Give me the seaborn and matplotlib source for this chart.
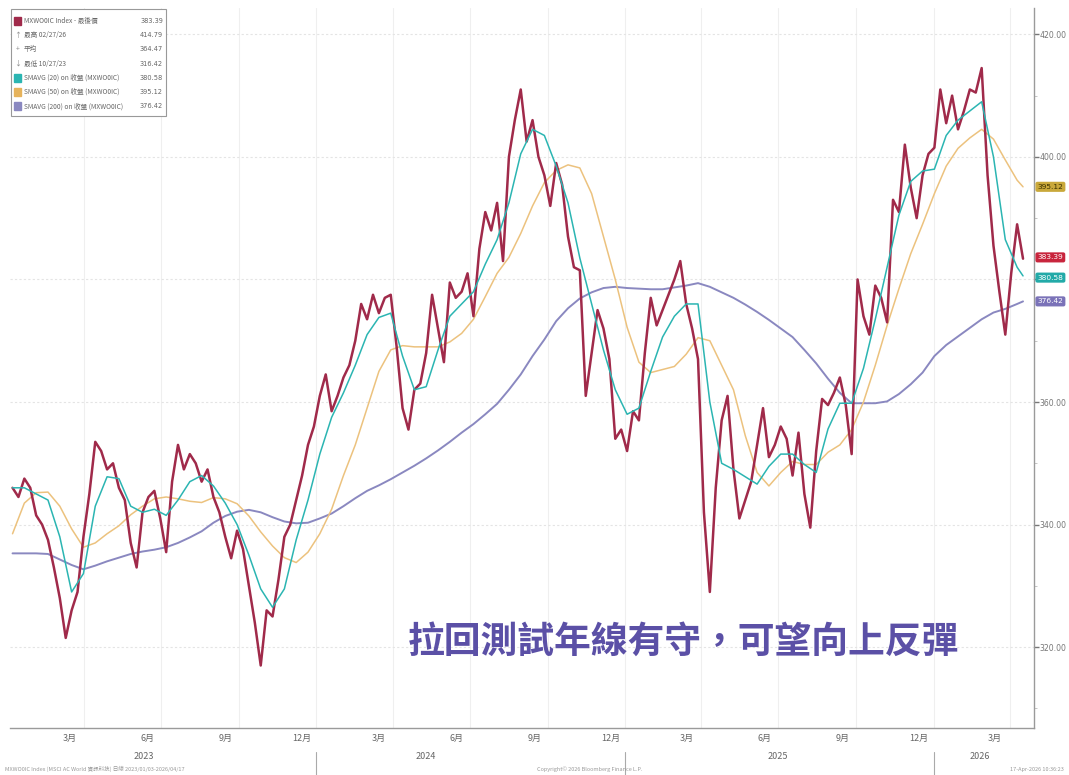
import numpy as np
import pandas as pd
import matplotlib
matplotlib.use("Agg")
import matplotlib.pyplot as plt
import matplotlib.dates as mdates
import matplotlib.transforms as mtransforms
from matplotlib.patches import Rectangle
import seaborn as sns

# ---------------- data ----------------
price_start = "2023-01-06"   # weekly points
price_close = [
    346, 344.5, 347.5, 346, 341.5, 340, 337.5, 333, 328, 321.5,
    326, 329, 338, 345, 353.5, 352, 349, 350, 346, 344,
    337, 333, 342, 344.5, 345.5, 341, 335.5, 347, 353, 349,
    351.5, 350, 347, 349, 344.5, 342, 338, 334.5, 339, 336,
    330, 324, 317, 326, 325, 331, 338, 340, 344, 348,
    353, 356, 361, 364.5, 358.5, 361, 364, 366, 370, 376,
    373.5, 377.5, 374.5, 377, 377.5, 369, 359, 355.5, 362, 363,
    368, 377.5, 372, 366.5, 379.5, 377, 378, 381, 374, 385,
    391, 388, 392.5, 383, 400, 406, 411, 402.5, 406, 400,
    397, 392, 399, 395.5, 387, 382, 381.5, 361, 368, 375,
    372, 367, 354, 355.5, 352, 358.5, 357, 368, 377, 372.5,
    375, 377.5, 380, 383, 376, 372, 367, 342, 329, 346,
    357, 361, 349, 341, 344, 347, 353, 359, 351, 353,
    356, 354, 348, 355, 345, 339.5, 352, 360.5, 359.5, 361.5,
    364, 359.5, 351.5, 380, 374, 371, 379, 377, 373, 393,
    391, 402, 395, 390, 397, 400.5, 401.5, 411, 405.5, 410,
    404.5, 407.5, 411, 410.5, 414.5, 397, 385.5, 378, 371, 381,
    389, 383.39,
]

sma_start = "2023-01-06"     # bi-weekly points, plus the last day
sma_last_date = "2026-04-17"
sma20 = [
    346, 346, 345, 344, 338, 329, 332, 343, 347.8, 347.5,
    343, 342, 342.5, 341.5, 344, 347, 348, 346.3, 343.5, 340,
    335, 329.5, 326.5, 329.5, 337.5, 344, 351.5, 357.5, 361.5, 366,
    371, 373.8, 374.5, 367.5, 362, 362.5, 368.5, 374, 376, 378,
    382.5, 386.5, 392.5, 400.5, 404.5, 403.5, 398.5, 392.5, 383.5, 376,
    368.5, 362, 358, 359, 365, 370.6, 374, 376, 376, 360,
    350, 349, 347.8, 346.6, 349.5, 351.5, 351.5, 349.8, 348.5, 355.6,
    359.8, 359.8, 365.5, 373.5, 382, 390.5, 396, 397.7, 398, 403.5,
    406, 407.5, 409, 400, 386.5, 382, 380.58,
]
sma50 = [
    338.5, 343.5, 345.2, 345.3, 343, 339.3, 336.3, 337, 338.5, 339.8,
    341.6, 343, 344.2, 344.5, 344.2, 343.8, 343.6, 344.4, 344.2, 343.4,
    341.4, 338.8, 336.5, 334.6, 333.8, 335.5, 338.5, 342.5, 348, 353,
    359, 365, 368.5, 369.2, 369, 369, 369, 369.8, 371.2, 373.5,
    377.2, 381, 383.6, 387.5, 392, 395.8, 397.8, 398.7, 398.2, 394,
    387, 380, 372.2, 366.5, 364.8, 365.3, 365.8, 367.8, 370.5, 370,
    366, 362, 354.5, 348.5, 346.3, 348.5, 350.3, 349.8, 349.8, 351.8,
    353, 355.5, 360, 366, 372.5, 378.5, 384.2, 389, 394, 398.5,
    401.4, 403.1, 404.5, 402.9, 399.5, 396.2, 395.12,
]
sma200 = [
    335.3, 335.3, 335.3, 335.2, 334.3, 333.4, 332.7, 333.3, 334, 334.6,
    335.2, 335.6, 335.9, 336.3, 337, 337.9, 338.9, 340.3, 341.4, 342.1,
    342.4, 342, 341.2, 340.5, 340.2, 340.3, 341, 341.8, 343, 344.3,
    345.5, 346.4, 347.4, 348.5, 349.6, 350.8, 352.1, 353.5, 355, 356.4,
    358, 359.7, 362, 364.5, 367.5, 370.2, 373.2, 375.3, 376.9, 377.9,
    378.6, 378.8, 378.6, 378.5, 378.4, 378.4, 378.7, 379, 379.4, 378.8,
    377.9, 377, 375.9, 374.7, 373.4, 372, 370.6, 368.5, 366.3, 363.8,
    361.5, 359.8, 359.8, 359.8, 360.1, 361.3, 362.9, 364.8, 367.5, 369.3,
    370.7, 372.1, 373.5, 374.6, 375.2, 376, 376.42,
]

legend_rows = [
    ("MXWO0IC Index - 最後價", "383.39"),
    ("最高 02/27/26", "414.79"),
    ("平均", "364.47"),
    ("最低 10/27/23", "316.42"),
    ("SMAVG (20) on 收盤 (MXWO0IC)", "380.58"),
    ("SMAVG (50) on 收盤 (MXWO0IC)", "395.12"),
    ("SMAVG (200) on 收盤 (MXWO0IC)", "376.42"),
]
y_ticks = [320, 340, 360, 380, 400, 420]
y_tick_labels = ["320.00", "340.00", "360.00", "", "400.00", "420.00"]  # 380 hidden by tags
month_labels = {3: "3月", 6: "6月", 9: "9月", 12: "12月"}
years = ["2023", "2024", "2025", "2026"]
annotation = "拉回測試年線有守，可望向上反彈"

# ---------------- frames ----------------
price_df = pd.DataFrame({
    "date": pd.date_range(price_start, periods=len(price_close), freq="7D"),
    "value": price_close,
})
sma_dates = list(pd.date_range(sma_start, periods=len(sma20) - 1, freq="14D")) + [pd.Timestamp(sma_last_date)]
sma_df = pd.DataFrame({"date": sma_dates, "sma20": sma20, "sma50": sma50, "sma200": sma200})

# ---------------- style ----------------
sns.set_theme(style="white")
plt.rcParams["font.family"] = ["Noto Sans CJK TC", "DejaVu Sans"]

C_PRICE = "#a02a4a"
C_20 = "#2bb5b2"
C_50 = "#ecc27e"
C_200 = "#8a88c0"

W, H = 1069, 775
fig = plt.figure(figsize=(W / 100, H / 100), dpi=100)
ax = fig.add_axes([10 / W, 1 - 728 / H, (1034 - 10) / W, (728 - 8) / H])

sns.lineplot(data=sma_df, x="date", y="sma200", ax=ax, color=C_200, lw=1.4)
sns.lineplot(data=sma_df, x="date", y="sma50", ax=ax, color=C_50, lw=1.1)
sns.lineplot(data=price_df, x="date", y="value", ax=ax, color=C_PRICE, lw=1.8)
sns.lineplot(data=sma_df, x="date", y="sma20", ax=ax, color=C_20, lw=1.1)

ax.set_xlim(pd.Timestamp("2023-01-03"), pd.Timestamp("2026-04-30"))
ax.set_ylim(306.8, 424.3)
ax.set_xlabel("")
ax.set_ylabel("")

for s in ["top", "left"]:
    ax.spines[s].set_visible(False)
for s in ["right", "bottom"]:
    ax.spines[s].set_color("#9a9a9a")
    ax.spines[s].set_linewidth(1.0)

# y axis on the right
ax.yaxis.tick_right()
ax.set_yticks(y_ticks)
ax.set_yticklabels(y_tick_labels, fontsize=5.6, color="#777777", family="DejaVu Sans")
ax.set_yticks([310, 330, 350, 370, 390, 410], minor=True)
ax.tick_params(axis="y", which="major", length=3.5, width=1, color="#777777", pad=0.5)
ax.tick_params(axis="y", which="minor", length=2, width=0.6, color="#bbbbbb")
ax.grid(axis="y", which="major", color="#e4e4e4", lw=0.8, ls=(0, (2, 2)))

# x axis
label_dates, label_text = [], []
for y in range(2023, 2027):
    for m, t in month_labels.items():
        d = pd.Timestamp(year=y, month=m, day=15)
        if pd.Timestamp("2023-01-03") < d < pd.Timestamp("2026-04-30"):
            label_dates.append(d)
            label_text.append(t)
ax.set_xticks(label_dates)
ax.set_xticklabels(label_text, fontsize=6.5, color="#666666")
ax.tick_params(axis="x", which="major", length=0, pad=4)
ax.xaxis.set_minor_locator(mdates.MonthLocator())
ax.tick_params(axis="x", which="minor", length=3, width=0.6, color="#bbbbbb")
for y in range(2023, 2027):
    for m in (1, 4, 7, 10):
        d = pd.Timestamp(year=y, month=m, day=1)
        if pd.Timestamp("2023-01-10") < d < pd.Timestamp("2026-04-30"):
            ax.axvline(d, color="#efefef", lw=0.8, zorder=0)

trans = mtransforms.blended_transform_factory(ax.transData, ax.transAxes)
year_pos = ["2023-06-10", "2024-05-10", "2025-07-01", "2026-02-25"]
for yl, yp in zip(years, year_pos):
    ax.text(pd.Timestamp(yp), -0.034, yl, transform=trans, ha="center", va="top",
            fontsize=6.5, color="#666666", clip_on=False)
for y in (2024, 2025, 2026):
    ax.plot([pd.Timestamp(year=y, month=1, day=1)] * 2, [-0.033, -0.066], transform=trans,
            color="#aaaaaa", lw=0.8, clip_on=False)

# value tags on the right
tags = [(395.12, "395.12", "#c9a83a", "#3a3000"),
        (383.39, "383.39", "#c8243c", "white"),
        (380.58, "380.58", "#22aaa8", "white"),
        (376.42, "376.42", "#7a72b8", "white")]
tag_y = {395.12: 395.12, 383.39: 383.6, 380.58: 380.3, 376.42: 376.42}
for v, t, bg, fg in tags:
    ax.annotate(t, xy=(1.0, tag_y[v]), xycoords=("axes fraction", "data"),
                xytext=(2.5, 0), textcoords="offset points", ha="left", va="center",
                fontsize=5.4, color=fg, family="DejaVu Sans",
                bbox=dict(boxstyle="round,pad=0.18", fc=bg, ec=bg), annotation_clip=False)

# legend box (top-left)
fig.patches.append(Rectangle((11 / W, 1 - 116 / H), 155 / W, 107 / H, transform=fig.transFigure,
                             fc="white", ec="#999999", lw=0.8, zorder=5))
row_colors = [C_PRICE, None, None, None, C_20, "#e6b35c", C_200]
row_marks = [None, "↑", "+", "↓", None, None, None]
for k, ((name, val), col, mk) in enumerate(zip(legend_rows, row_colors, row_marks)):
    yy = 1 - (21 + k * 14.2) / H
    if col:
        fig.patches.append(Rectangle((14 / W, yy - 4 / H), 7 / W, 8 / H, transform=fig.transFigure,
                                     fc=col, ec=col, zorder=6))
    elif mk:
        fig.text(17.5 / W, yy, mk, fontsize=5, color="#888888", ha="center", va="center", zorder=7)
    fig.text(24 / W, yy, name, fontsize=4.8, color="#666666", ha="left", va="center", zorder=7)
    fig.text(163 / W, yy, val, fontsize=4.8, color="#666666", ha="right", va="center", zorder=7,
             family="DejaVu Sans")

# annotation
fig.text(683 / W, 1 - 642 / H, annotation, fontsize=26.5, fontweight="bold", color="#5b50a6",
         ha="center", va="center")

# footer
fig.text(5 / W, 1 - 769 / H, "MXWO0IC Index (MSCI AC World 資訊科技) 日線 2023/01/03-2026/04/17",
         fontsize=4, color="#999999", ha="left", va="center")
fig.text(590 / W, 1 - 769 / H, "Copyright© 2026 Bloomberg Finance L.P.", fontsize=4,
         color="#999999", ha="center", va="center")
fig.text(1064 / W, 1 - 769 / H, "17-Apr-2026 10:36:23", fontsize=4, color="#999999",
         ha="right", va="center")

fig.savefig("out.png", dpi=100)
